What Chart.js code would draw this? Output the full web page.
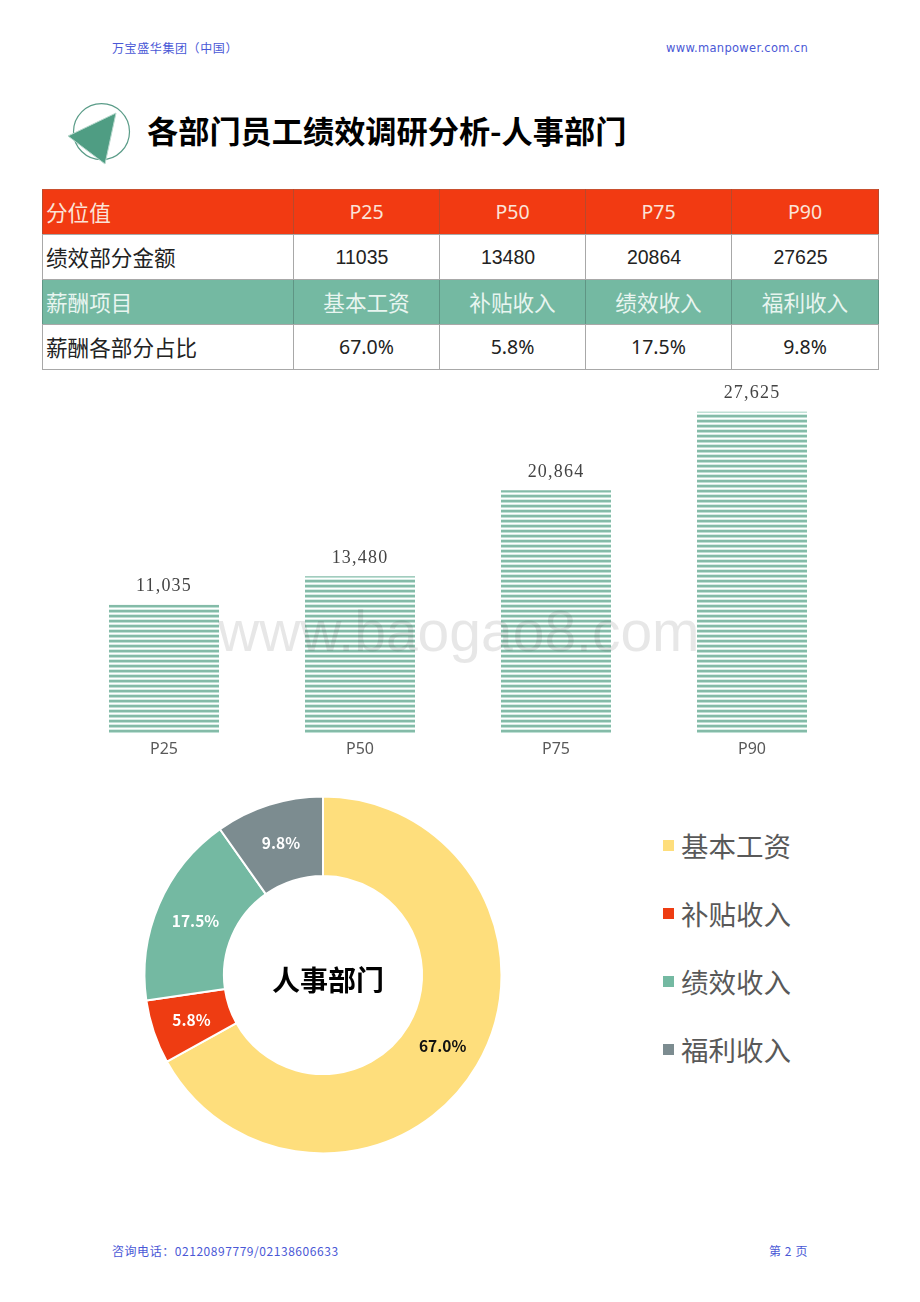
<!DOCTYPE html>
<html lang="zh"><head><meta charset="utf-8">
<script src="https://cdn.jsdelivr.net/npm/chart.js@4"></script>
<style>
html,body{margin:0;padding:0;background:#fff;}
body{width:920px;height:1302px;position:relative;overflow:hidden;font-family:"Noto Sans CJK SC","Noto Sans",sans-serif;}
.a{position:absolute;white-space:nowrap;}
.link{color:#4a58d6;font-size:12px;line-height:16px;letter-spacing:.6px;}
#title{left:147px;top:108px;font-size:31.2px;line-height:44px;font-weight:700;color:#000;}
table{position:absolute;left:42px;top:189px;border-collapse:collapse;table-layout:fixed;width:836px;font-size:21.6px;}
td{border:1px solid #a8a8a8;height:45px;padding:0;text-align:center;color:#222;line-height:24px;box-sizing:border-box;}
td:first-child{text-align:left;padding-left:3px;}
td.n{font-size:19.5px;font-family:"Noto Sans",sans-serif;}
tr.amt td.n{padding-right:9px;font-family:"Liberation Sans",sans-serif;}
tr.red td{background:#f23a12;color:#fbe3d8;border-left-color:#b8492c;border-right-color:#b8492c;border-top-color:#c9502f;}
tr.green td{background:#74b9a2;color:#e8f5f0;border-left-color:#5f9584;border-right-color:#5f9584;}
#wm{left:218px;top:595px;font-family:"Liberation Sans",sans-serif;font-size:57px;line-height:72px;color:rgba(60,60,60,.12);z-index:5;}
#legend{left:662px;top:811px;}
.li{position:absolute;left:0;height:68px;width:150px;font-size:27.5px;line-height:68px;color:#595959;}
.li i{position:absolute;left:1px;top:29px;width:11px;height:11px;}
.li span{position:absolute;left:19px;top:0;}
canvas{position:absolute;}
</style></head><body>
<div class="a link" style="left:112px;top:40px">万宝盛华集团（中国）</div>
<div class="a link" style="right:112px;top:40px;font-family:'DejaVu Sans';font-size:11.5px;letter-spacing:.3px">www.manpower.com.cn</div>
<svg class="a" style="left:60px;top:95px" width="80" height="80">
<circle cx="41.5" cy="36.7" r="28" fill="none" stroke="#5a9c88" stroke-width="1.2"/>
<polygon points="56,18 8,41 45,69" fill="#4f9d83" stroke="#b9d9ce" stroke-width="1"/>
</svg>
<div class="a" id="title">各部门员工绩效调研分析-人事部门</div>
<table id="tb"><colgroup><col style="width:251px"><col style="width:146px"><col style="width:146px"><col style="width:146px"><col style="width:147px"></colgroup><tbody></tbody></table>
<canvas id="bar" style="left:66px;top:384px" width="784" height="376"></canvas>
<div class="a" id="wm">www.baogao8.com</div>
<canvas id="pie" style="left:135px;top:787px" width="376" height="376"></canvas>
<div class="a" id="legend"></div>
<div class="a link" style="left:112px;top:1243px;letter-spacing:.55px">咨询电话：02120897779/02138606633</div>
<div class="a link" style="right:112px;top:1243px">第 2 页</div>
<script>
const percentiles = ["P25","P50","P75","P90"];
const amounts = [11035,13480,20864,27625];
const items = ["基本工资","补贴收入","绩效收入","福利收入"];
const shares = [67.0,5.8,17.5,9.8];
const shareLabels = ["67.0%","5.8%","17.5%","9.8%"];
const sliceColors = ["#fede7c","#ee3c12","#74b9a2","#7c8c90"];
const sliceTextColors = ["#111111","#ffffff","#ffffff","#ffffff"];
const centerTitle = "人事部门";

const rows = [
 ["red",["分位值",...percentiles],true],
 ["amt",["绩效部分金额",...amounts.map(String)],true],
 ["green",["薪酬项目",...items],false],
 ["",["薪酬各部分占比",...shareLabels],true]
];
document.querySelector("#tb tbody").innerHTML = rows.map(([c,r,num]) =>
 `<tr class="${c}">`+r.map((t,i)=>`<td class="${num&&i?'n':''}">${t}</td>`).join("")+"</tr>").join("");

items.forEach((t,i)=>{
 const d=document.createElement("div");d.className="li";d.style.top=(i*68)+"px";
 d.innerHTML=`<i style="background:${sliceColors[i]}"></i><span>${t}</span>`;
 document.getElementById("legend").appendChild(d);
});

// horizontal stripe fill
const pc=document.createElement("canvas");pc.width=4;pc.height=5;
const px=pc.getContext("2d");
px.fillStyle="#ffffff";px.fillRect(0,0,4,5);
px.fillStyle="#d5ece4";px.fillRect(0,0,4,1);
px.fillStyle="#84bba8";px.fillRect(0,1,4,2);
px.fillStyle="#bfe0d5";px.fillRect(0,3,4,1);
const stripes=px.createPattern(pc,"repeat");

const barLabels={id:"barLabels",afterDatasetsDraw(c){
 const g=c.ctx,m=c.getDatasetMeta(0);
 g.save();g.font='18px "Liberation Serif",serif';g.letterSpacing="1.2px";g.fillStyle="#444";g.textAlign="center";g.textBaseline="middle";
 m.data.forEach((b,i)=>g.fillText(amounts[i].toLocaleString("en-US"),b.x,b.y-18));
 g.restore();
}};
new Chart(document.getElementById("bar"),{
 type:"bar",
 data:{labels:percentiles,datasets:[{data:amounts,backgroundColor:stripes,borderWidth:0,barPercentage:1,categoryPercentage:110/196}]},
 options:{responsive:false,animation:false,
  plugins:{legend:{display:false},tooltip:{enabled:false}},
  layout:{padding:0},
  scales:{
   x:{grid:{display:false},border:{display:false},afterFit(s){s.height=27;},
      ticks:{color:"#595959",padding:-1,font:{size:16,family:'"Noto Sans","Noto Sans CJK SC",sans-serif'}}},
   y:{display:false,min:0,max:30000}
  }},
 plugins:[barLabels]
});

const pieLabels={id:"pieLabels",afterDatasetsDraw(c){
 const g=c.ctx,m=c.getDatasetMeta(0);
 g.save();g.textAlign="center";g.textBaseline="middle";
 g.font='bold 15.5px "Noto Sans CJK SC",sans-serif';
 m.data.forEach((a,i)=>{const p=a.getCenterPoint();g.fillStyle=sliceTextColors[i];g.fillText(shareLabels[i],p.x,p.y+0.5);});
 g.font='bold 28px "Noto Sans CJK SC",sans-serif';g.fillStyle="#000";
 const a0=m.data[0];g.fillText(centerTitle,a0.x+5,a0.y+5);
 g.restore();
}};
new Chart(document.getElementById("pie"),{
 type:"doughnut",
 data:{labels:items,datasets:[{data:shares,backgroundColor:sliceColors,borderColor:"#fff",borderWidth:2}]},
 options:{responsive:false,animation:false,cutout:"55.5%",
  layout:{padding:8.5},
  plugins:{legend:{display:false},tooltip:{enabled:false}}},
 plugins:[pieLabels]
});
</script>
</body></html>
